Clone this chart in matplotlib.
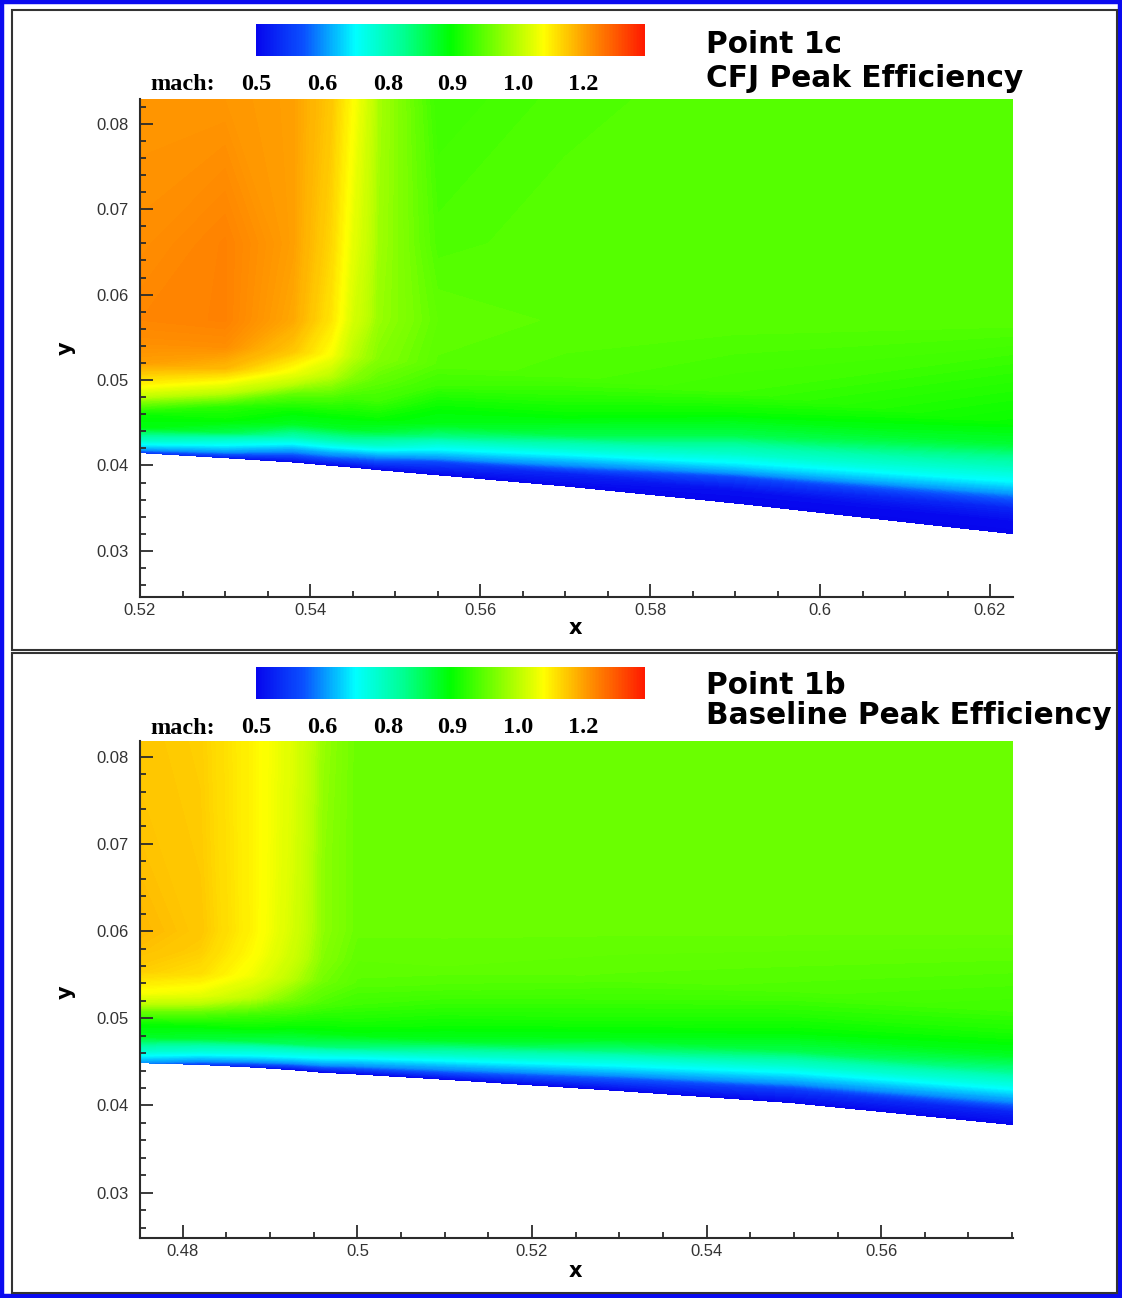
import numpy as np
import matplotlib
matplotlib.use('Agg')
import matplotlib.pyplot as plt
import matplotlib.colors as mcolors
from matplotlib.cm import ScalarMappable
from matplotlib.patches import Rectangle
from matplotlib.ticker import MultipleLocator, FuncFormatter

# ==============================================================================
# Constants
#
W, H = 1122, 1298
DPI = 100
TICK_FONT = 'Liberation Sans'
TITLE_FONT = 'DejaVu Sans'
LEGEND_FONT = 'Liberation Serif'
DARK = '#2b2b2b'

# ==============================================================================
# Data
#
                                                          # mach colour legend
mach_ticks = [0.5, 0.6, 0.8, 0.9, 1.0, 1.2]
mach_tick_pos = [0.0, 0.17, 0.34, 0.505, 0.675, 0.84]
mach_max = 1.35
                                            # rows: heights above wall, then y
wall_offsets = [0.0, 0.0015, 0.003, 0.0045, 0.006, 0.008, 0.0105, 0.013]

                                                    # point 1c, CFJ (top panel)
x_1c = [0.52, 0.53, 0.538, 0.5425, 0.545, 0.548, 0.555, 0.57, 0.59, 0.6227]
wall_1c = [0.0415, 0.0409, 0.0404, 0.0400, 0.0398, 0.0395, 0.0389, 0.0376,
           0.0356, 0.0320]
upper_1c = [0.057, 0.066, 0.0829]
mach_1c = [
    [0.55, 0.78, 0.89, 0.90, 0.97, 1.09, 1.20, 1.22, 1.23, 1.22, 1.21],
    [0.52, 0.70, 0.86, 0.90, 0.92, 1.02, 1.17, 1.22, 1.235, 1.235, 1.21],
    [0.50, 0.62, 0.80, 0.88, 0.90, 0.95, 1.06, 1.15, 1.19, 1.20, 1.20],
    [0.50, 0.62, 0.80, 0.88, 0.90, 0.94, 1.00, 1.07, 1.11, 1.13, 1.15],
    [0.50, 0.61, 0.80, 0.88, 0.90, 0.93, 0.97, 1.00, 1.03, 1.05, 1.08],
    [0.50, 0.60, 0.78, 0.87, 0.90, 0.93, 0.95, 0.97, 0.98, 0.985, 0.99],
    [0.50, 0.56, 0.70, 0.83, 0.885, 0.90, 0.93, 0.945, 0.95, 0.94, 0.93],
    [0.50, 0.53, 0.64, 0.77, 0.86, 0.895, 0.92, 0.94, 0.945, 0.945, 0.94],
    [0.50, 0.51, 0.56, 0.68, 0.78, 0.86, 0.90, 0.93, 0.945, 0.945, 0.945],
    [0.50, 0.505, 0.53, 0.59, 0.69, 0.79, 0.87, 0.90, 0.945, 0.945, 0.945],
]
                                              # point 1b, baseline (bottom panel)
x_1b = [0.4751, 0.482, 0.488, 0.4925, 0.496, 0.5, 0.51, 0.53, 0.55, 0.5751]
wall_1b = [0.0449, 0.0447, 0.0444, 0.0441, 0.0438, 0.0436, 0.0430, 0.0417,
           0.0403, 0.0378]
upper_1b = [0.060, 0.068, 0.0818]
mach_1b = [
    [0.60, 0.78, 0.88, 0.90, 0.96, 1.07, 1.14, 1.16, 1.17, 1.16, 1.15],
    [0.55, 0.75, 0.87, 0.90, 0.95, 1.05, 1.12, 1.14, 1.15, 1.145, 1.14],
    [0.52, 0.72, 0.86, 0.90, 0.93, 1.00, 1.06, 1.08, 1.09, 1.09, 1.09],
    [0.50, 0.70, 0.85, 0.89, 0.92, 0.96, 1.00, 1.02, 1.03, 1.035, 1.04],
    [0.50, 0.68, 0.84, 0.89, 0.91, 0.94, 0.96, 0.97, 0.975, 0.975, 0.98],
    [0.50, 0.66, 0.83, 0.89, 0.91, 0.93, 0.945, 0.95, 0.955, 0.955, 0.955],
    [0.50, 0.63, 0.79, 0.88, 0.90, 0.92, 0.94, 0.95, 0.955, 0.955, 0.955],
    [0.50, 0.58, 0.71, 0.83, 0.885, 0.91, 0.93, 0.945, 0.955, 0.955, 0.955],
    [0.50, 0.55, 0.66, 0.78, 0.86, 0.895, 0.92, 0.94, 0.955, 0.955, 0.955],
    [0.50, 0.53, 0.62, 0.73, 0.82, 0.88, 0.91, 0.93, 0.955, 0.955, 0.955],
]

# ==============================================================================
# Colour map and norm
#
cmap = mcolors.LinearSegmentedColormap.from_list('tecplot', [
    (0.0, '#0606ee'), (0.12, '#0a50ff'), (0.255, '#00ffff'),
    (0.38, '#00ff90'), (0.5, '#00ff00'), (0.74, '#ffff00'),
    (0.85, '#ff9900'), (1.0, '#ff1a00')])

anchor_m = mach_ticks + [mach_max]
anchor_f = mach_tick_pos + [1.0]
norm = mcolors.FuncNorm(
    (lambda m: np.interp(m, anchor_m, anchor_f),
     lambda f: np.interp(f, anchor_f, anchor_m)),
    vmin=0.5, vmax=mach_max)


def build_grid(x, wall, upper):
    X = np.tile(np.array(x), (len(wall_offsets) + len(upper), 1))
    Y = np.vstack([np.array(wall) + d for d in wall_offsets]
                  + [np.full(len(x), u) for u in upper])
    return X, Y


def fig_rect(px_left, px_top, px_right, px_bottom):
    return [px_left / W, 1 - px_bottom / H,
            (px_right - px_left) / W, (px_bottom - px_top) / H]

# ==============================================================================
# Figure
#
fig = plt.figure(figsize=(W / DPI, H / DPI), dpi=DPI)
fig.patch.set_facecolor('white')
                                                               # blue outer frame
fig.add_artist(Rectangle((2 / W, 2 / H), 1 - 4 / W, 1 - 4 / H,
                         transform=fig.transFigure, fill=False,
                         ec='#0a0af0', lw=3.2))
                                                                  # panel frames
for top, bottom in [(10, 650), (653, 1293)]:
    fig.add_artist(Rectangle((12 / W, 1 - bottom / H), (1117 - 12) / W,
                             (bottom - top) / H, transform=fig.transFigure,
                             fill=False, ec='#333333', lw=1.5))

panels = [
    dict(x=x_1c, wall=wall_1c, upper=upper_1c, mach=mach_1c,
         rect=fig_rect(140, 99, 1013, 597), xlim=(0.52, 0.6227),
         ylim=(0.0246, 0.0829), cbar=fig_rect(256, 24, 645, 56),
         title=['Point 1c', 'CFJ Peak Efficiency'], title_y=[53, 87],
         xlab_y=628, ylab_y=348),
    dict(x=x_1b, wall=wall_1b, upper=upper_1b, mach=mach_1b,
         rect=fig_rect(140, 741, 1013, 1238), xlim=(0.4751, 0.5751),
         ylim=(0.0248, 0.0818), cbar=fig_rect(256, 667, 645, 699),
         title=['Point 1b', 'Baseline Peak Efficiency'], title_y=[694, 724],
         xlab_y=1271, ylab_y=992),
]

levels = np.arange(0.49, 1.26, 0.004)
fmt = FuncFormatter(lambda v, p: '%g' % round(v, 4))

for p in panels:
                                                                  # contour field
    ax = fig.add_axes(p['rect'])
    ax.patch.set_alpha(0)
    X, Y = build_grid(p['x'], p['wall'], p['upper'])
    M = np.array(p['mach']).T
    ax.contourf(X, Y, M, levels=levels, cmap=cmap, norm=norm,
                antialiased=False)
    ax.set_xlim(*p['xlim'])
    ax.set_ylim(*p['ylim'])
                                                                          # axes
    for s in ['top', 'right']:
        ax.spines[s].set_visible(False)
    for s in ['left', 'bottom']:
        ax.spines[s].set_color(DARK)
        ax.spines[s].set_linewidth(1.5)
    ax.xaxis.set_major_locator(MultipleLocator(0.02))
    ax.xaxis.set_minor_locator(MultipleLocator(0.005))
    ax.yaxis.set_major_locator(MultipleLocator(0.01))
    ax.yaxis.set_minor_locator(MultipleLocator(0.002))
    ax.xaxis.set_major_formatter(fmt)
    ax.yaxis.set_major_formatter(fmt)
    ax.tick_params(which='both', direction='in', color=DARK, width=1.3,
                   labelsize=12, labelcolor='#333333')
    ax.tick_params(which='major', length=9.5)
    ax.tick_params(which='minor', length=4.5)
    ax.tick_params(axis='y', pad=8.5)
    ax.tick_params(axis='x', pad=4)
    for lbl in ax.get_xticklabels() + ax.get_yticklabels():
        lbl.set_fontfamily(TICK_FONT)
                                                                   # axis labels
    fig.text(575 / W, 1 - p['xlab_y'] / H, 'x', ha='center', va='center',
             fontsize=15, fontweight='bold', family=TITLE_FONT)
    fig.text(66 / W, 1 - p['ylab_y'] / H, 'y', ha='center', va='center',
             rotation=90, fontsize=15, fontweight='bold', family=TITLE_FONT)
                                                                 # colour legend
    cax = fig.add_axes(p['cbar'])
    cb = fig.colorbar(ScalarMappable(norm=norm, cmap=cmap), cax=cax,
                      orientation='horizontal')
    cb.outline.set_visible(False)
    cb.set_ticks(mach_ticks, labels=['%.1f' % m for m in mach_ticks],
                 fontfamily=LEGEND_FONT, fontweight='bold', fontsize=17.5)
    cax.tick_params(length=0, pad=13)
    cax.minorticks_off()
    cb_bottom = H * (1 - p['cbar'][1])
    fig.text(150 / W, 1 - (cb_bottom + 29) / H, 'mach:', ha='left',
             va='center', fontsize=17.5, fontweight='bold', family=LEGEND_FONT)
                                                                         # title
    for txt, ty in zip(p['title'], p['title_y']):
        fig.text(706 / W, 1 - ty / H, txt, ha='left', va='baseline',
                 fontsize=21.3, fontweight='bold', family=TITLE_FONT)

fig.savefig('out.png', dpi=DPI)
